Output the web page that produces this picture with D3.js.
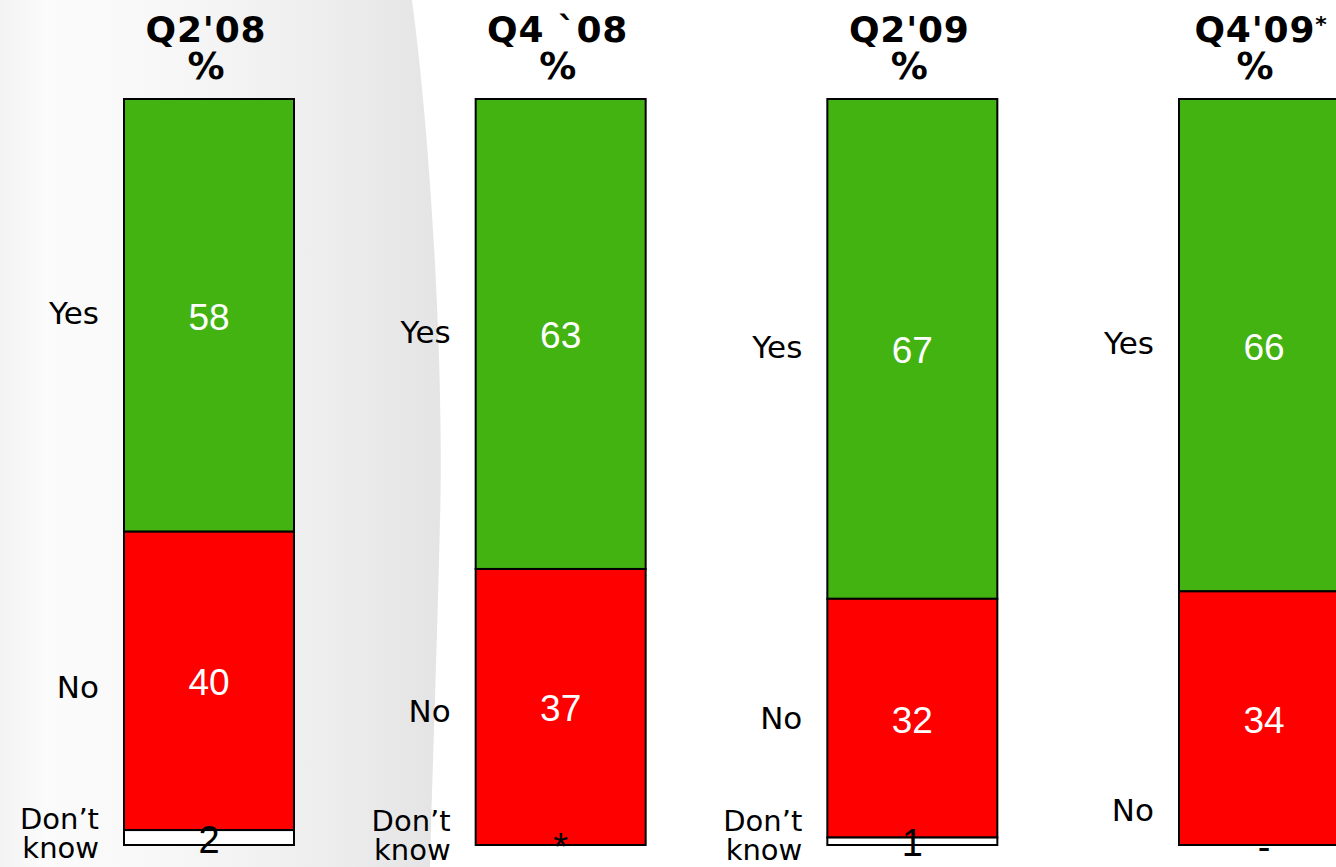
<!DOCTYPE html>
<html>
<head>
<meta charset="utf-8">
<script src="https://cdn.jsdelivr.net/npm/d3@7/dist/d3.min.js"></script>
<style>
  html, body { margin: 0; padding: 0; background: #ffffff; }
  svg { display: block; }
</style>
</head>
<body>
<svg id="chart" width="1336" height="867"></svg>
<script>
// ---------- data ----------
const categories = ["Q2'08", "Q4 `08", "Q2'09", "Q4'09"];
const titleMarks = ["", "", "", "*"];
const seriesKeys = ["Yes", "No", "Don't know"];
const yesValues = [58, 63, 67, 66];
const noValues = [40, 37, 32, 34];
const dontKnowValues = [2, 0, 1, 0];
const dontKnowLabels = ["2", "*", "1", "-"];
const dontKnowRowShown = [true, true, true, false];

// ---------- layout (not data) ----------
const W = 1336, H = 867;
const barTop = 99, barBottom = 845;
const barsLeft = 124, barsRight = 1349;
const noLabelNudge = [6, 4, 0, 92]; // px shift of the "No" row label
const colors = { "Yes": "#43b311", "No": "#ff0000", "Don't know": "#ffffff" };

const svg = d3.select("#chart");

// background gradient swoosh
const defs = svg.append("defs");
const grad = defs.append("linearGradient").attr("id", "bg").attr("x1", "0").attr("x2", "1").attr("y1", "0").attr("y2", "0");
[[0, "#f3f3f3"], [0.1, "#fbfbfb"], [0.35, "#f8f8f8"], [0.72, "#eeeeee"], [1, "#e4e4e4"]]
  .forEach(([o, c]) => grad.append("stop").attr("offset", o).attr("stop-color", c));
svg.append("path")
  .attr("d", "M0,0 L412,0 C432,150 444,380 440,520 C437,650 432,780 430,867 L0,867 Z")
  .attr("fill", "url(#bg)");

// table built from the arrays
const table = categories.map((c, i) => ({
  cat: c, mark: titleMarks[i],
  "Yes": yesValues[i], "No": noValues[i], "Don't know": dontKnowValues[i],
  dkLabel: dontKnowLabels[i], dkShown: dontKnowRowShown[i], nudge: noLabelNudge[i]
}));

const x = d3.scaleBand().domain(categories).range([barsLeft, barsRight]).paddingInner(0.5166).paddingOuter(0);
const y = d3.scaleLinear().domain([0, 100]).range([barTop, barBottom]);

const stacked = d3.stack().keys(seriesKeys)(table);

// bars
const layers = svg.append("g").selectAll("g").data(stacked).join("g")
  .attr("fill", d => colors[d.key]);
layers.selectAll("rect").data(d => d).join("rect")
  .attr("x", d => x(d.data.cat))
  .attr("y", d => y(d[0]))
  .attr("width", x.bandwidth())
  .attr("height", d => y(d[1]) - y(d[0]))
  .attr("stroke", "#000")
  .attr("stroke-width", 2);

// value labels
const valueFont = "'Liberation Sans', Arial, sans-serif";
stacked.forEach(layer => {
  svg.append("g").selectAll("text").data(layer).join("text")
    .attr("x", d => x(d.data.cat) + x.bandwidth() / 2)
    .attr("y", d => (y(d[0]) + y(d[1])) / 2 + 2)
    .attr("text-anchor", "middle")
    .attr("dominant-baseline", "central")
    .attr("font-family", valueFont)
    .attr("font-size", layer.key === "Don't know" ? 38 : 37)
    .attr("fill", layer.key === "Don't know" ? "#000" : "#fff")
    .text(d => layer.key === "Don't know" ? d.data.dkLabel : d.data[layer.key]);
});

// row labels
const labelFont = "'DejaVu Sans', Verdana, sans-serif";
stacked.forEach(layer => {
  const g = svg.append("g");
  layer.forEach(d => {
    const lx = x(d.data.cat) - 25;
    const mid = (y(d[0]) + y(d[1])) / 2;
    if (layer.key === "Don't know") {
      if (!d.data.dkShown) return;
      const base = Math.min(mid, 840);
      [["Don\u2019t", base - 9], ["know", base + 20]].forEach(([txt, yy]) => {
        g.append("text").attr("x", lx).attr("y", yy).attr("text-anchor", "end")
          .attr("font-family", labelFont).attr("font-size", 29).attr("fill", "#000")
          .text(txt);
      });
    } else {
      g.append("text").attr("x", lx)
        .attr("y", mid + (layer.key === "No" ? d.data.nudge : -2))
        .attr("text-anchor", "end")
        .attr("dominant-baseline", "central")
        .attr("font-family", labelFont).attr("font-size", 31).attr("fill", "#000")
        .text(layer.key);
    }
  });
});

// titles
const titles = svg.append("g").selectAll("g").data(table).join("g")
  .attr("font-family", labelFont)
  .attr("font-weight", "bold")
  .attr("fill", "#000");
titles.each(function(d) {
  const g = d3.select(this);
  const cx = x(d.cat) + x.bandwidth() / 2 - 3;
  const l1 = g.append("text").attr("x", cx).attr("y", 42).attr("text-anchor", "middle")
    .attr("font-size", 36).attr("letter-spacing", 0.8).text(d.cat);
  if (d.mark) l1.append("tspan").attr("font-size", 22).attr("dy", -10).text(d.mark);
  g.append("text").attr("x", cx - (d.mark ? 6 : 0)).attr("y", 79).attr("text-anchor", "middle")
    .attr("font-size", 37).text("%");
});
</script>
</body>
</html>
